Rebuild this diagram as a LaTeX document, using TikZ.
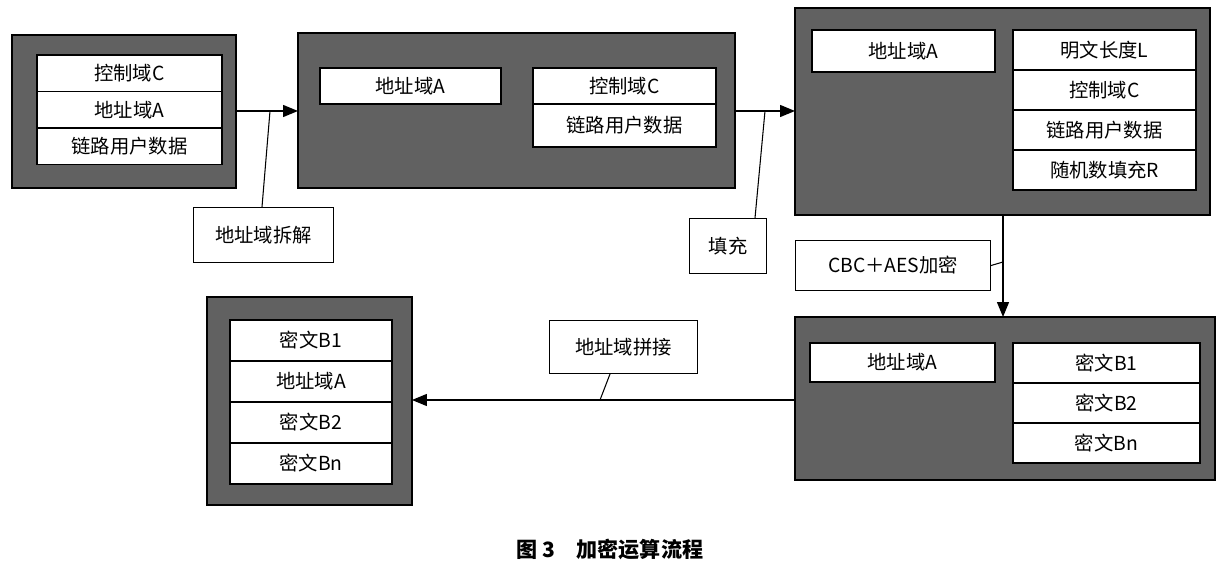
\documentclass[tikz,border=0pt]{standalone}
\usepackage{fontspec}
\setmainfont{Liberation Serif}
\newfontfamily\cjk{Noto Sans CJK SC}
\usetikzlibrary{positioning,arrows.meta}

\tikzset{
	panel/.style={draw=black, line width=1.2pt, fill=black!62, anchor=north west, inner sep=0pt, outer sep=0pt},
	cell/.style={draw=black, line width=0.8pt, fill=white, anchor=north west, inner sep=0pt, outer sep=0pt, font=\cjk\fontsize{11}{13}\selectfont},
	tag/.style={draw=black, line width=0.6pt, fill=white, anchor=north west, inner sep=0pt, font=\cjk\fontsize{11}{13}\selectfont},
	flow/.style={line width=0.8pt, -{Triangle[length=3mm, width=2.4mm]}},
	lead/.style={line width=0.6pt},
}

\begin{document}
\begin{tikzpicture}[x=0.02cm, y=-0.02cm]

% frame %{{{2

	\useasboundingbox (0,0) rectangle (1220,567);

% panels %{{{2

	\node[panel, minimum width=4.48cm, minimum height=3.06cm] (P1) at (12,35) {};
	\node[panel, minimum width=8.74cm, minimum height=3.1cm] (P2) at (298,33) {};
	\node[panel, minimum width=8.3cm, minimum height=4.14cm] (P3) at (795,8) {};
	\node[panel, minimum width=8.4cm, minimum height=3.26cm] (P4) at (795,317) {};
	\node[panel, minimum width=4.1cm, minimum height=4.16cm] (P5) at (207,297) {};

% first panel cells %{{{2

	\node[cell, minimum width=3.7cm, minimum height=0.73cm] (a1) at (37,55) {控制域C};
	\node[cell, minimum width=3.7cm, minimum height=0.73cm, below=0pt of a1.south west, anchor=north west] (a2) {地址域A};
	\node[cell, minimum width=3.7cm, minimum height=0.73cm, below=0pt of a2.south west, anchor=north west] (a3) {链路用户数据};

% second panel cells %{{{2

	\node[cell, minimum width=3.62cm, minimum height=0.72cm] (b1) at (320,68) {地址域A};
	\node[cell, minimum width=3.66cm, minimum height=0.72cm] (b2) at (533,68) {控制域C};
	\node[cell, minimum width=3.66cm, minimum height=0.86cm, below=0pt of b2.south west, anchor=north west] (b3) {链路用户数据};

% third panel cells %{{{2

	\node[cell, minimum width=3.66cm, minimum height=0.84cm] (c0) at (812,30) {地址域A};
	\node[cell, minimum width=3.66cm, minimum height=0.8cm] (c1) at (1013,30) {明文长度L};
	\node[cell, minimum width=3.66cm, minimum height=0.8cm, below=0pt of c1.south west, anchor=north west] (c2) {控制域C};
	\node[cell, minimum width=3.66cm, minimum height=0.8cm, below=0pt of c2.south west, anchor=north west] (c3) {链路用户数据};
	\node[cell, minimum width=3.66cm, minimum height=0.8cm, below=0pt of c3.south west, anchor=north west] (c4) {随机数填充R};

% fourth panel cells %{{{2

	\node[cell, minimum width=3.7cm, minimum height=0.78cm] (d0) at (810,343) {地址域A};
	\node[cell, minimum width=3.74cm, minimum height=0.8cm] (d1) at (1013,343) {密文B1};
	\node[cell, minimum width=3.74cm, minimum height=0.8cm, below=0pt of d1.south west, anchor=north west] (d2) {密文B2};
	\node[cell, minimum width=3.74cm, minimum height=0.8cm, below=0pt of d2.south west, anchor=north west] (d3) {密文Bn};

% fifth panel cells %{{{2

	\node[cell, minimum width=3.24cm, minimum height=0.82cm] (e1) at (230,320) {密文B1};
	\node[cell, minimum width=3.24cm, minimum height=0.82cm, below=0pt of e1.south west, anchor=north west] (e2) {地址域A};
	\node[cell, minimum width=3.24cm, minimum height=0.82cm, below=0pt of e2.south west, anchor=north west] (e3) {密文B2};
	\node[cell, minimum width=3.24cm, minimum height=0.82cm, below=0pt of e3.south west, anchor=north west] (e4) {密文Bn};

% step labels %{{{2

	\node[tag, minimum width=2.8cm, minimum height=1.1cm] (t1) at (193,207) {地址域拆解};
	\node[tag, minimum width=1.54cm, minimum height=1.1cm] (t2) at (689,218) {填充};
	\node[tag, minimum width=3.9cm, minimum height=1.0cm] (t3) at (795,240) {CBC＋AES加密};
	\node[tag, minimum width=2.96cm, minimum height=1.06cm] (t4) at (549,320) {地址域拼接};

% arrows %{{{2

	\draw[flow] (P1.east |- 0,111) -- (P2.west |- 0,111);
	\draw[flow] (P2.east |- 0,111) -- (P3.west |- 0,111);
	\draw[flow] (P3.south -| 1003,0) -- (P4.north -| 1003,0);
	\draw[flow] (P4.west |- 0,400) -- (P5.east |- 0,400);

% leaders %{{{2

	\coordinate (k1) at (270,111);
	\coordinate (k2) at (765,111);
	\coordinate (k3) at (1003,262);
	\coordinate (k4) at (600,400);

	\draw[lead] (t1.north -| 262,0) -- (k1);
	\draw[lead] (t2.north -| 755,0) -- (k2);
	\draw[lead] (t3.east) -- (k3);
	\draw[lead] (t4.south -| 610,0) -- (k4);

% caption %{{{2

	\node[font=\cjk\bfseries\fontsize{12}{14}\selectfont] (cap) at (610,549) {图 3\quad 加密运算流程};

% closing %{{{2

\end{tikzpicture}
\end{document}
